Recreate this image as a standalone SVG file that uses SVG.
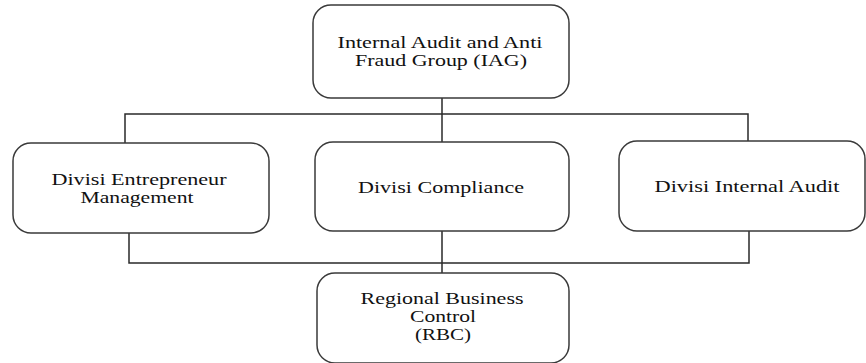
<svg xmlns="http://www.w3.org/2000/svg" width="866" height="363" viewBox="0 0 866 363">
<style>
.box{fill:#fff;stroke:#3a3a3a;stroke-width:1.5}
.ln{fill:none;stroke:#2a2a2a;stroke-width:1.5}
.t{font-family:'Liberation Serif','Times New Roman',serif;font-size:17px;fill:#111;text-anchor:middle}
</style>
<rect width="866" height="363" fill="#fff"/>
<g id="connectors">
<path class="ln" d="M442 98V114M125 143V114H748V141"/>
<path class="ln" d="M442 114V142"/>
<path class="ln" d="M129 233V263H749V231M442 231V273"/>
</g>
<g id="iag">
<rect class="box" x="313" y="5" width="256" height="93" rx="18"/>
<text class="t" x="440" y="48" textLength="205" lengthAdjust="spacingAndGlyphs">Internal Audit and Anti</text>
<text class="t" x="441" y="66" textLength="172" lengthAdjust="spacingAndGlyphs">Fraud Group (IAG)</text>
</g>
<g id="entrepreneur">
<rect class="box" x="13" y="143" width="256" height="90" rx="18"/>
<text class="t" x="139" y="185" textLength="175" lengthAdjust="spacingAndGlyphs">Divisi Entrepreneur</text>
<text class="t" x="137" y="203" textLength="113" lengthAdjust="spacingAndGlyphs">Management</text>
</g>
<g id="compliance">
<rect class="box" x="315" y="142" width="254" height="89" rx="18"/>
<text class="t" x="441" y="193" textLength="166" lengthAdjust="spacingAndGlyphs">Divisi Compliance</text>
</g>
<g id="internal-audit">
<rect class="box" x="619" y="141" width="246" height="90" rx="18"/>
<text class="t" x="747" y="192" textLength="185" lengthAdjust="spacingAndGlyphs">Divisi Internal Audit</text>
</g>
<g id="rbc">
<rect class="box" x="317" y="273" width="252" height="90" rx="18"/>
<text class="t" x="442" y="304" textLength="163" lengthAdjust="spacingAndGlyphs">Regional Business</text>
<text class="t" x="443" y="322" textLength="66" lengthAdjust="spacingAndGlyphs">Control</text>
<text class="t" x="443" y="340" textLength="56" lengthAdjust="spacingAndGlyphs">(RBC)</text>
</g>
</svg>
